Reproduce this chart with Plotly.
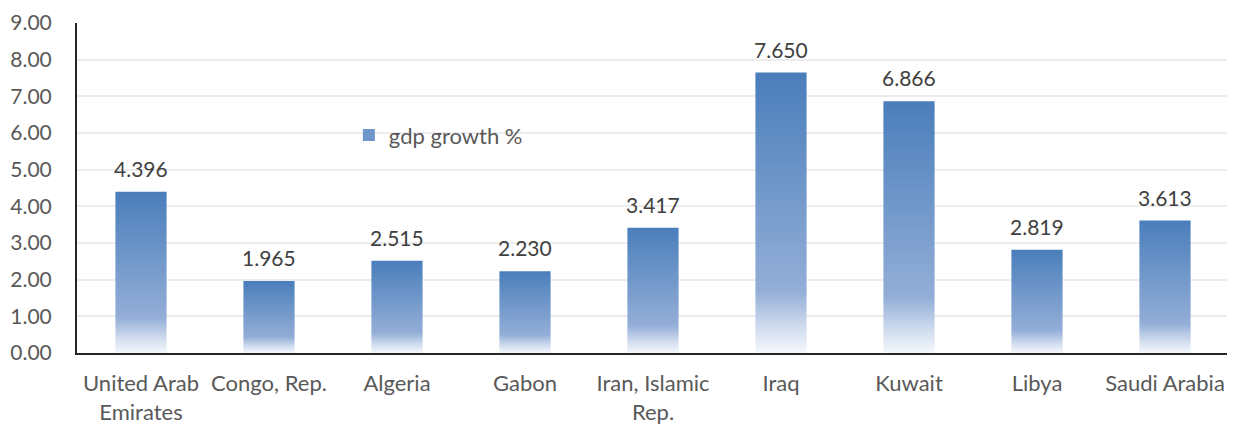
import plotly.graph_objects as go

categories = ["United Arab<br>Emirates", "Congo, Rep.", "Algeria", "Gabon",
              "Iran, Islamic<br>Rep.", "Iraq", "Kuwait", "Libya", "Saudi Arabia"]
gdp_growth = [4.396, 1.965, 2.515, 2.230, 3.417, 7.650, 6.866, 2.819, 3.613]
series_name = "gdp growth %"
y_ticks = [0, 1, 2, 3, 4, 5, 6, 7, 8, 9]

FONT = "Lato"
GRAY = "#595959"
half_w = 0.2
gradient = [[0.0, "#f5f8fc"], [0.1, "#ccd9ed"], [0.22, "#93aed7"], [1.0, "#4a7ebb"]]

fig = go.Figure()
for i, (cat, v) in enumerate(zip(categories, gdp_growth)):
    fig.add_trace(go.Scatter(
        x=[i - half_w, i + half_w, i + half_w, i - half_w, i - half_w],
        y=[0, 0, v, v, 0],
        mode="lines", line=dict(width=0),
        fill="toself",
        fillgradient=dict(type="vertical", colorscale=gradient),
        name=series_name, showlegend=False, hoverinfo="skip",
    ))
    fig.add_annotation(x=i, y=v, text=f"{v:.3f}", showarrow=False,
                       yanchor="bottom", yshift=9,
                       font=dict(family=FONT, size=21, color="#404040"))

# legend entry (square swatch)
fig.add_trace(go.Bar(x=[None], y=[None], name=series_name,
                     marker=dict(color="#6f97cc", line=dict(width=0)), showlegend=True))

fig.update_layout(
    width=1235, height=427,
    margin=dict(l=69, r=14, t=15, b=82, autoexpand=False),
    paper_bgcolor="white", plot_bgcolor="white",
    font=dict(family=FONT, size=21, color=GRAY),
    legend=dict(x=0.236, y=0.66, xanchor="left", yanchor="middle",
                bgcolor="rgba(0,0,0,0)", font=dict(family=FONT, size=22, color=GRAY)),
    xaxis=dict(range=[-0.5, len(categories) - 0.5], tickvals=list(range(len(categories))),
               ticktext=categories, showgrid=False, zeroline=False,
               showline=True, linecolor="#262626", linewidth=2, ticks="",
               ticklabelstandoff=10, automargin=False,
               tickfont=dict(family=FONT, size=22, color=GRAY)),
    yaxis=dict(range=[0, 9], tickvals=y_ticks, tickformat=".2f",
               showgrid=True, gridcolor="#ececec", gridwidth=2, zeroline=False,
               showline=True, linecolor="#262626", linewidth=2, ticks="",
               ticklabelstandoff=19, automargin=False, ticklabeloverflow="allow",
               tickfont=dict(family=FONT, size=21, color=GRAY)),
    barmode="overlay",
)

fig.write_html("out.html")
